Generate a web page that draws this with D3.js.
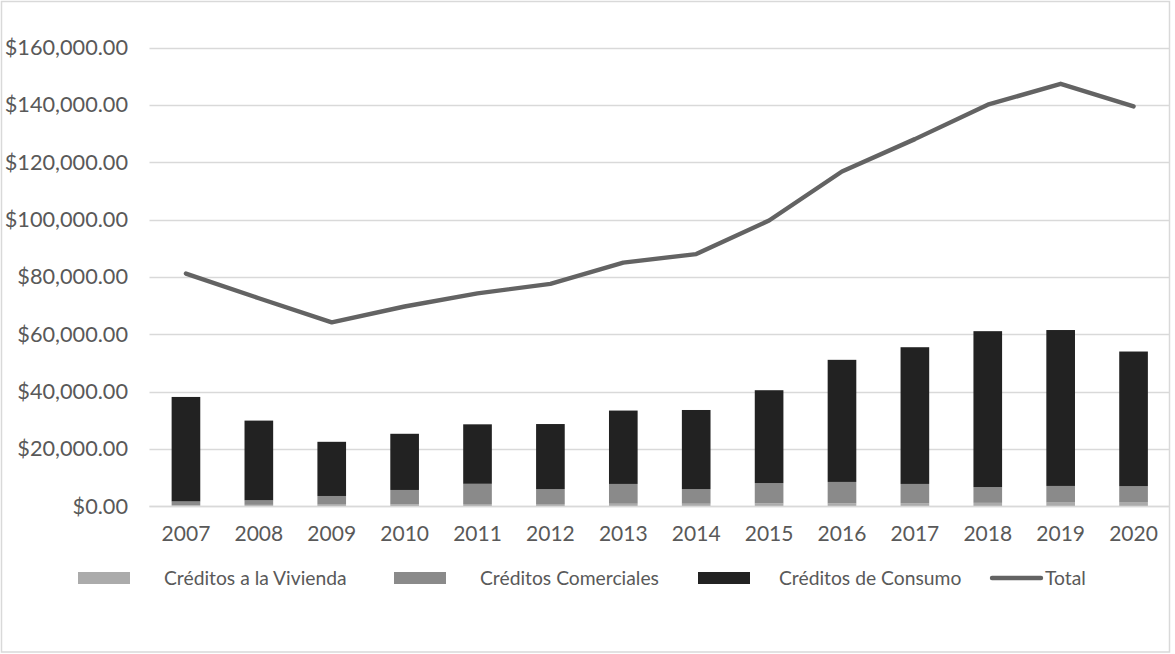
<!DOCTYPE html>
<html>
<head>
<meta charset="utf-8">
<script src="https://cdn.jsdelivr.net/npm/d3@7"></script>
<style>
  html, body { margin: 0; padding: 0; background: #fff; }
  svg { display: block; }
  text { font-family: Lato, "Liberation Sans", sans-serif; fill: #595959; }
</style>
</head>
<body>
<svg id="chart" width="1175" height="654"></svg>
<script>
// Credit portfolio by type, 2007–2020
const years = ["2007","2008","2009","2010","2011","2012","2013","2014","2015","2016","2017","2018","2019","2020"];
const vivienda   = [400, 500, 600, 700, 800, 800, 900, 900, 1000, 1000, 1100, 1200, 1300, 1300];
const comerciales = [1300, 1600, 3000, 5000, 7050, 5200, 6900, 5100, 7100, 7500, 6700, 5500, 5800, 5700];
const consumo    = [36450, 27800, 18900, 19600, 20750, 22700, 25600, 27600, 32400, 42600, 47700, 54400, 54400, 47000];
const total      = [81200, 72600, 64200, 69700, 74300, 77600, 85000, 88000, 99700, 116800, 128100, 140100, 147400, 139500];
const yTicks = [0, 20000, 40000, 60000, 80000, 100000, 120000, 140000, 160000];

const seriesNames = ["Créditos a la Vivienda", "Créditos Comerciales", "Créditos de Consumo"];
const seriesColors = ["#ababab", "#8a8a8a", "#222222"];
const lineColor = "#636363";

const svg = d3.select("#chart");

// outer chart frame
svg.append("rect")
  .attr("x", 1.5).attr("y", 1.5)
  .attr("width", 1168).attr("height", 650.5)
  .attr("fill", "#fff").attr("stroke", "#d9d9d9").attr("stroke-width", 1.5);

const plot = { left: 149.5, right: 1170, top: 47.7, bottom: 506.3 };

const x = d3.scaleBand()
  .domain(years)
  .range([plot.left, plot.right])
  .paddingInner(0.607)
  .paddingOuter(0.3035);

const y = d3.scaleLinear()
  .domain([0, 160000])
  .range([plot.bottom, plot.top]);

// horizontal gridlines
svg.append("g")
  .selectAll("line")
  .data(yTicks)
  .join("line")
  .attr("x1", plot.left).attr("x2", 1169)
  .attr("y1", d => Math.round(y(d)) + 0.5)
  .attr("y2", d => Math.round(y(d)) + 0.5)
  .attr("stroke", "#d9d9d9").attr("stroke-width", 1.3);

// y axis labels
const yAxis = d3.axisLeft(y)
  .tickValues(yTicks)
  .tickFormat(d3.format("$,.2f"))
  .tickSize(0)
  .tickPadding(0);
const gy = svg.append("g").attr("transform", "translate(128,0)").call(yAxis);
gy.select(".domain").remove();
gy.selectAll("text")
  .style("font-family", "Lato, 'Liberation Sans', sans-serif")
  .style("font-size", "21.7px").attr("fill", "#595959");

// stacked bars
const rows = years.map((yr, i) => ({ year: yr, v: vivienda[i], c: comerciales[i], k: consumo[i] }));
const stack = d3.stack().keys(["v", "c", "k"]);
const layers = stack(rows);

svg.append("g")
  .selectAll("g")
  .data(layers)
  .join("g")
  .attr("fill", (d, i) => seriesColors[i])
  .selectAll("rect")
  .data(d => d)
  .join("rect")
  .attr("x", d => x(d.data.year))
  .attr("width", x.bandwidth())
  .attr("y", d => y(d[1]))
  .attr("height", d => y(d[0]) - y(d[1]));

// x axis (baseline + labels)
svg.append("line")
  .attr("x1", plot.left).attr("x2", 1169)
  .attr("y1", Math.round(y(0)) + 0.5).attr("y2", Math.round(y(0)) + 0.5)
  .attr("stroke", "#d9d9d9").attr("stroke-width", 1.3);

const xAxis = d3.axisBottom(x).tickSize(0).tickPadding(0);
const gx = svg.append("g").attr("transform", "translate(0,526)").call(xAxis);
gx.select(".domain").remove();
gx.selectAll("text")
  .style("font-family", "Lato, 'Liberation Sans', sans-serif")
  .style("font-size", "21px").attr("fill", "#595959");

// total line
const line = d3.line()
  .x((d, i) => x(years[i]) + x.bandwidth() / 2)
  .y(d => y(d));
svg.append("path")
  .datum(total)
  .attr("d", line)
  .attr("fill", "none")
  .attr("stroke", lineColor)
  .attr("stroke-width", 4.4)
  .attr("stroke-linejoin", "round")
  .attr("stroke-linecap", "round");

// legend
const legendY = 578;
const swatchX = [78, 394, 698];
const labelX = [164, 480, 779];
seriesNames.forEach((name, i) => {
  svg.append("rect")
    .attr("x", swatchX[i]).attr("y", legendY - 6)
    .attr("width", 52).attr("height", 12)
    .attr("fill", seriesColors[i]);
  svg.append("text")
    .attr("x", labelX[i]).attr("y", legendY)
    .attr("dy", "0.35em")
    .style("font-size", "19.3px")
    .text(name);
});
svg.append("line")
  .attr("x1", 992).attr("x2", 1041)
  .attr("y1", legendY).attr("y2", legendY)
  .attr("stroke", lineColor).attr("stroke-width", 4.4)
  .attr("stroke-linecap", "round");
svg.append("text")
  .attr("x", 1045).attr("y", legendY)
  .attr("dy", "0.35em")
  .style("font-size", "19.3px")
  .text("Total");
</script>
</body>
</html>
